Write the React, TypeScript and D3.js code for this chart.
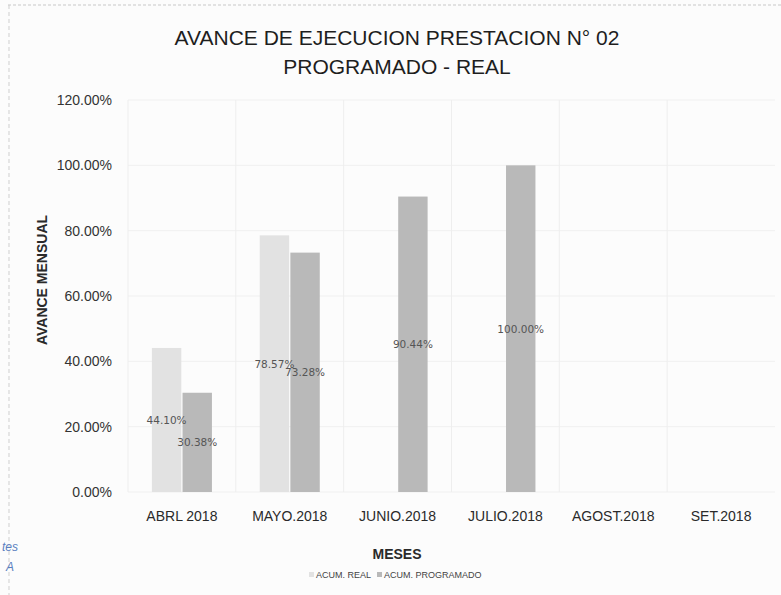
import React from 'react';
import * as d3 from 'd3';

const months = ['ABRL 2018', 'MAYO.2018', 'JUNIO.2018', 'JULIO.2018', 'AGOST.2018', 'SET.2018'];
const acumReal: (number | null)[] = [44.10, 78.57, null, null, null, null];
const acumProgramado: (number | null)[] = [30.38, 73.28, 90.44, 100.0, null, null];
const yTicks = [0, 20, 40, 60, 80, 100, 120];
const seriesNames = ['ACUM. REAL', 'ACUM. PROGRAMADO'];
const seriesColors = ['#e2e2e2', '#b9b9b9'];

const W = 781;
const H = 595;
const margin = { top: 100, right: 6, bottom: 103, left: 128 };
const narrow = '"Liberation Sans Narrow", "Arial Narrow", "Liberation Sans", sans-serif';

const App = () => {
  const x = d3.scaleBand<string>()
    .domain(months)
    .range([margin.left, W - margin.right]);
  const inner = d3.scaleBand<number>()
    .domain([0, 1])
    .range([0, x.bandwidth()])
    .paddingInner(0.04)
    .paddingOuter(0.78);
  const y = d3.scaleLinear().domain([0, 120]).range([H - margin.bottom, margin.top]);
  const fmt = (v: number) => v.toFixed(2) + '%';

  const series = [acumReal, acumProgramado];

  return (
    <svg width={W} height={H} style={{ display: 'block', position: 'absolute', left: 0, top: 0, background: '#fdfdfd' }}>
      <rect x={0} y={0} width={W} height={H} fill="#fcfcfc" />
      {/* scan frame */}
      <line x1={8} x2={W} y1={5} y2={5} stroke="#c8c8c8" strokeDasharray="3 2" />
      <line x1={9} x2={9} y1={5} y2={H} stroke="#cfcfcf" strokeDasharray="4 3" />

      <text x={397} y={45} textAnchor="middle" fontFamily={narrow} fontSize={21} fill="#1e1e1e">
        AVANCE DE EJECUCION PRESTACION N° 02
      </text>
      <text x={397} y={74} textAnchor="middle" fontFamily={narrow} fontSize={21} fill="#1e1e1e">
        PROGRAMADO - REAL
      </text>

      {/* grid */}
      {yTicks.map(t => (
        <line key={'h' + t} x1={margin.left} x2={W - margin.right} y1={y(t)} y2={y(t)} stroke="#f0f0f0" />
      ))}
      {months.map(m => (
        <line key={'v' + m} x1={x(m)!} x2={x(m)!} y1={margin.top} y2={y(0)} stroke="#eeeeee" />
      ))}

      {/* y axis labels */}
      {yTicks.map(t => (
        <text key={'yt' + t} x={112} y={y(t) + 5} textAnchor="end" fontFamily={narrow} fontSize={14} fill="#333">
          {fmt(t)}
        </text>
      ))}
      <text
        transform={`translate(47,280) rotate(-90)`}
        textAnchor="middle" fontFamily={narrow} fontSize={14} fontWeight="bold" fill="#2a2a2a">
        AVANCE MENSUAL
      </text>

      {/* bars */}
      {series.map((vals, si) => vals.map((v, i) => v == null ? null : (
        <rect key={`b${si}-${i}`}
          x={x(months[i])! + inner(si)!}
          y={y(v)}
          width={inner.bandwidth()}
          height={y(0) - y(v)}
          fill={seriesColors[si]} />
      )))}

      {/* data labels */}
      {series.map((vals, si) => vals.map((v, i) => v == null ? null : (
        <text key={`l${si}-${i}`}
          x={x(months[i])! + inner(si)! + inner.bandwidth() / 2}
          y={(y(v) + y(0)) / 2 + 4}
          textAnchor="middle" fontFamily='"DejaVu Sans", Verdana, sans-serif' fontSize={10.5} fill="#555">
          {fmt(v)}
        </text>
      )))}

      {/* x axis labels */}
      {months.map(m => (
        <text key={'xt' + m} x={x(m)! + x.bandwidth() / 2} y={521} textAnchor="middle" fontFamily={narrow} fontSize={14} fill="#2a2a2a">
          {m}
        </text>
      ))}

      <text x={397} y={559} textAnchor="middle" fontFamily={narrow} fontSize={14} fontWeight="bold" fill="#2a2a2a">
        MESES
      </text>

      {/* legend */}
      <g fontFamily={narrow} fontSize={9} fill="#444">
        <rect x={309} y={572} width={5} height={5} fill={seriesColors[0]} />
        <text x={316} y={578}>{seriesNames[0]}</text>
        <rect x={377} y={572} width={5} height={5} fill={seriesColors[1]} />
        <text x={384} y={578}>{seriesNames[1]}</text>
      </g>

      {/* bleed-through from adjacent page */}
      <text x={2} y={551} fontFamily={narrow} fontStyle="italic" fontSize={12} fill="#5a7fc0">tes</text>
      <text x={6} y={571} fontFamily={narrow} fontStyle="italic" fontSize={12} fill="#5a7fc0">A</text>
    </svg>
  );
};

export default App;
